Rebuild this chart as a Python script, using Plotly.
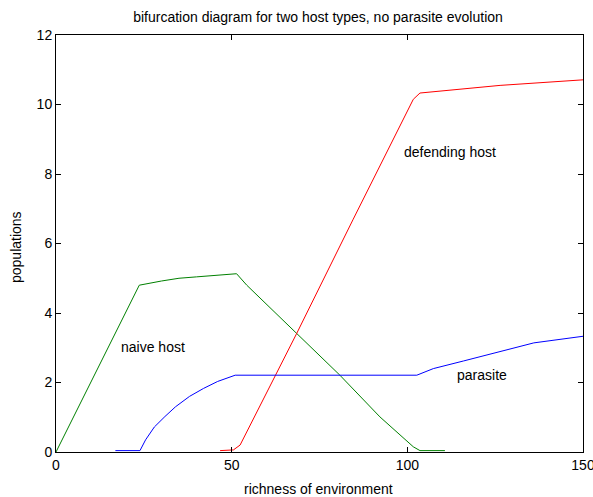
import plotly.graph_objects as go

# richness of environment (x) and populations (y)
naive_x = [0, 10.6, 16.8, 23.7, 30, 35, 40, 45, 51.4, 54.3, 68.5, 80.8, 92.2, 101.7, 103.6, 110.7]
naive_y = [0, 2.13, 3.41, 4.80, 4.92, 5.0, 5.04, 5.08, 5.13, 4.80, 3.41, 2.21, 1.01, 0.15, 0.04, 0.04]

defend_x = [46.7, 50.5, 52.4, 68.5, 84.6, 101.7, 103.6, 126.4, 150]
defend_y = [0.04, 0.06, 0.2, 3.41, 6.7, 10.15, 10.33, 10.55, 10.71]

parasite_x = [16.9, 23.9, 25.5, 28, 31, 34, 38, 42, 46, 51.0, 102.7, 107.4, 116, 126, 136, 150]
parasite_y = [0.04, 0.04, 0.35, 0.72, 1.02, 1.3, 1.6, 1.83, 2.03, 2.21, 2.21, 2.40, 2.62, 2.88, 3.14, 3.33]

x_ticks = [0, 50, 100, 150]
y_ticks = [0, 2, 4, 6, 8, 10, 12]

labels = [
    ("naive host", 17.9, 3.03),
    ("defending host", 98.4, 8.63),
    ("parasite", 113.6, 2.21),
]

FONT = "Liberation Sans, Arial, sans-serif"
FS = 14
W, H = 593, 497
L, R, T, B = 56, 10, 35, 45

fig = go.Figure()
fig.add_trace(go.Scatter(x=naive_x, y=naive_y, mode="lines",
                         line=dict(color="rgb(0,128,0)", width=1), name="naive host"))
fig.add_trace(go.Scatter(x=defend_x, y=defend_y, mode="lines",
                         line=dict(color="rgb(255,0,0)", width=1), name="defending host"))
fig.add_trace(go.Scatter(x=parasite_x, y=parasite_y, mode="lines",
                         line=dict(color="rgb(0,0,255)", width=1), name="parasite"))

for text, lx, ly in labels:
    fig.add_annotation(x=lx, y=ly, text=text, showarrow=False, xanchor="left",
                       yanchor="middle", font=dict(family=FONT, size=FS, color="black"))

# axis titles placed in paper coordinates
pw, ph = W - L - R, H - T - B
fig.add_annotation(xref="paper", yref="paper", x=(318 - L) / pw, y=-(489 - (H - B)) / ph,
                   text="richness of environment", showarrow=False,
                   xanchor="center", yanchor="middle",
                   font=dict(family=FONT, size=FS, color="black"))
fig.add_annotation(xref="paper", yref="paper", x=-(L - 16) / pw, y=((H - B) - 247) / ph,
                   text="populations", showarrow=False, textangle=-90,
                   xanchor="center", yanchor="middle",
                   font=dict(family=FONT, size=FS, color="black"))

axis_common = dict(showgrid=False, zeroline=False, showline=True, linecolor="black",
                   linewidth=1, mirror="ticks", ticks="inside", ticklen=5,
                   tickcolor="black", automargin=False, ticklabeloverflow="allow",
                   tickfont=dict(family=FONT, size=FS, color="black"))

fig.update_layout(
    width=W, height=H,
    margin=dict(l=L, r=R, t=T, b=B, autoexpand=False),
    paper_bgcolor="white", plot_bgcolor="white",
    showlegend=False,
    title=dict(text="bifurcation diagram for two host types, no parasite evolution",
               x=(318 / W), xanchor="center", y=1 - 17 / H, yanchor="middle",
               font=dict(family=FONT, size=FS, color="black")),
    xaxis=dict(range=[0, 150], tickvals=x_ticks, ticktext=[str(v) for v in x_ticks],
               **axis_common),
    yaxis=dict(range=[0, 12], tickvals=y_ticks, ticktext=[str(v) for v in y_ticks],
               **axis_common),
)

fig.write_html("out.html", config={"displayModeBar": False},
               post_script="document.body.style.margin='0';")
